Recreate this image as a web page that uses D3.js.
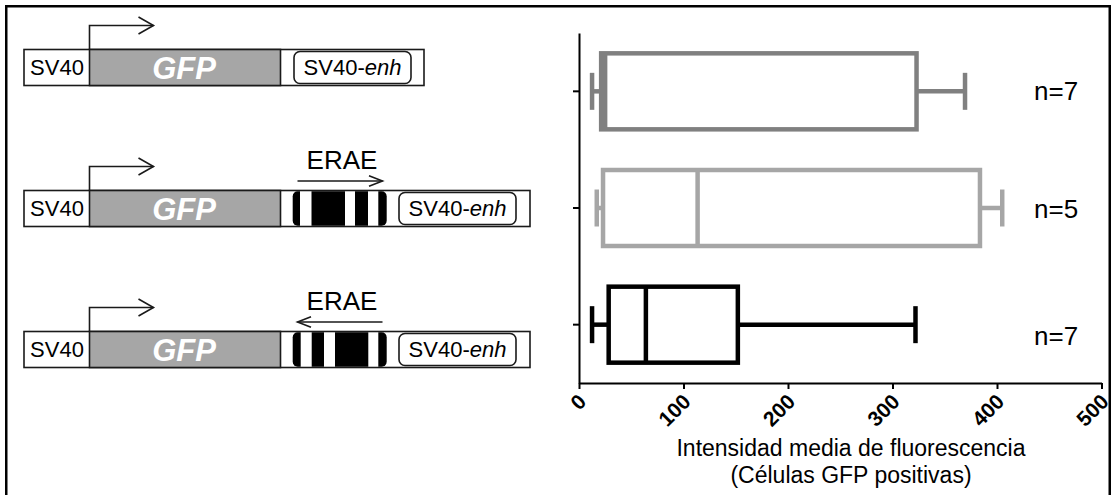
<!DOCTYPE html>
<html>
<head>
<meta charset="utf-8">
<script src="https://cdn.jsdelivr.net/npm/d3@7/dist/d3.min.js"></script>
<style>
  html, body { margin: 0; padding: 0; background: #fff; }
  svg { display: block; }
  text { font-family: Arial, "Liberation Sans", sans-serif; }
</style>
</head>
<body>
<div id="chart"></div>
<script>
// ---------- data ----------
const categories = ["pGFP-SV40enh", "pGFP-ERAE sentido", "pGFP-ERAE antisentido"];
const whiskerMin = [12.5, 17, 12.5];
const q1Values = [21.2, 23, 28.4];
const medianValues = [25, 113.5, 64];
const q3Values = [323, 383.7, 152];
const whiskerMax = [369.4, 405, 322];
const nLabels = ["n=7", "n=5", "n=7"];
const seriesColors = ["#808080", "#a6a6a6", "#000000"];
const xTicks = [0, 100, 200, 300, 400, 500];
const xTitle = ["Intensidad media de fluorescencia", "(Células GFP positivas)"];
const constructs = ["control", "sense", "antisense"];   // ERAE orientation per row
const eraeDirection = [0, 1, -1];

// ---------- svg ----------
const W = 1112, H = 495;
const svg = d3.select("#chart").append("svg").attr("width", W).attr("height", H);

// outer frame
svg.append("rect")
  .attr("x", 6.25).attr("y", 6.25).attr("width", 1103.5).attr("height", 530)
  .attr("fill", "none").attr("stroke", "#000").attr("stroke-width", 2.5);

// ---------- construct diagrams ----------
const rowTop = d3.scalePoint().domain(constructs).range([49.5, 331.5]);
const boxH = 36;
const lineCol = "#1a1a1a";

constructs.forEach((c, i) => {
  const g = svg.append("g");
  const y0 = rowTop(c);
  const dir = eraeDirection[i];
  const hasERAE = dir !== 0;
  const endX = hasERAE ? 530 : 424;
  const enhX = hasERAE ? 399 : 294;
  const enhW = 117;

  // outer box
  g.append("rect").attr("x", 24).attr("y", y0).attr("width", endX - 24).attr("height", boxH)
    .attr("fill", "#fff").attr("stroke", lineCol).attr("stroke-width", 1.6);
  // GFP
  g.append("rect").attr("x", 89.5).attr("y", y0).attr("width", 191).attr("height", boxH)
    .attr("fill", "#a6a6a6").attr("stroke", lineCol).attr("stroke-width", 1.6);
  g.append("text").attr("x", 184).attr("y", y0 + boxH / 2).attr("dy", "0.36em")
    .attr("text-anchor", "middle").attr("fill", "#fff")
    .attr("font-size", 31).attr("font-weight", "bold").attr("font-style", "italic").text("GFP");
  // SV40
  g.append("text").attr("x", 57).attr("y", y0 + boxH / 2).attr("dy", "0.36em")
    .attr("text-anchor", "middle").attr("fill", "#000").attr("font-size", 22).text("SV40");
  // enhancer
  g.append("rect").attr("x", enhX).attr("y", y0 + 2).attr("width", enhW).attr("height", boxH - 4)
    .attr("rx", 6).attr("fill", "#fff").attr("stroke", lineCol).attr("stroke-width", 1.6);
  const t = g.append("text").attr("x", enhX + enhW / 2).attr("y", y0 + boxH / 2).attr("dy", "0.36em")
    .attr("text-anchor", "middle").attr("font-size", 22).attr("fill", "#000");
  t.append("tspan").text("SV40-");
  t.append("tspan").attr("font-style", "italic").text("enh");

  // promoter arrow
  g.append("path")
    .attr("d", `M89.5,${y0} V${y0 - 24} H153.5`)
    .attr("fill", "none").attr("stroke", lineCol).attr("stroke-width", 1.6);
  g.append("path")
    .attr("d", `M138.5,${y0 - 32.5} L153.5,${y0 - 24} L138.5,${y0 - 15.5}`)
    .attr("fill", "none").attr("stroke", lineCol).attr("stroke-width", 1.6);

  if (hasERAE) {
    const ex0 = 292.7, ex1 = 386.7;
    g.append("rect").attr("x", ex0).attr("y", y0 + 0.8).attr("width", ex1 - ex0).attr("height", boxH - 1.6)
      .attr("rx", 5).attr("fill", "#000");
    const stripes = dir > 0 ? [[300, 311.5], [345, 355], [368, 378.3]]
                            : [[300.7, 311.7], [324, 335], [368.3, 378.3]];
    stripes.forEach(s => {
      g.append("rect").attr("x", s[0]).attr("y", y0 + 0.8).attr("width", s[1] - s[0]).attr("height", boxH - 1.6)
        .attr("fill", "#fff");
    });
    // ERAE label + direction arrow
    g.append("text").attr("x", 342).attr("y", y0 - 21.5).attr("text-anchor", "middle")
      .attr("font-size", 26).attr("fill", "#000").text("ERAE");
    const ay = y0 - 9.5;
    g.append("line").attr("x1", 297.5).attr("x2", 382.5).attr("y1", ay).attr("y2", ay)
      .attr("stroke", lineCol).attr("stroke-width", 1.6);
    const tip = dir > 0 ? 382.5 : 297.5;
    const back = dir > 0 ? 369 : 311;
    g.append("path").attr("d", `M${back},${ay - 5.3} L${tip},${ay} L${back},${ay + 5.3}`)
      .attr("fill", "none").attr("stroke", lineCol).attr("stroke-width", 1.6);
  }
});

// ---------- box plot ----------
const x = d3.scaleLinear().domain([0, 500]).range([579, 1101.5]);
const y = d3.scaleBand().domain(categories).range([33, 383]);
const axisY = 383;

const xAxis = svg.append("g").attr("transform", `translate(0,${axisY})`)
  .call(d3.axisBottom(x).tickValues(xTicks).tickSize(6).tickSizeOuter(0).tickFormat(d3.format("d")));
xAxis.select(".domain").attr("stroke", "#000").attr("stroke-width", 2);
xAxis.selectAll(".tick line").attr("stroke", "#000").attr("stroke-width", 2);
xAxis.selectAll(".tick text")
  .attr("y", 0).attr("dy", 0)
  .attr("transform", "translate(8,20) rotate(-45)")
  .attr("text-anchor", "end")
  .attr("font-size", 21).attr("font-weight", "bold").attr("fill", "#000")
  .attr("font-family", "Arial, 'Liberation Sans', sans-serif");

const yAxis = svg.append("g").attr("transform", `translate(${x(0)},0)`)
  .call(d3.axisLeft(y).tickSize(6).tickSizeOuter(0).tickFormat(""));
yAxis.select(".domain").attr("stroke", "#000").attr("stroke-width", 2);
yAxis.selectAll(".tick line").attr("stroke", "#000").attr("stroke-width", 2);

const boxHalf = 38, capHalf = 18.5, sw = 4.5;
const bp = svg.append("g");
categories.forEach((c, i) => {
  const yc = y(c) + y.bandwidth() / 2;
  const col = seriesColors[i];
  const g = bp.append("g").attr("stroke", col).attr("stroke-width", sw).attr("fill", "none");
  g.append("line").attr("x1", x(whiskerMin[i])).attr("x2", x(q1Values[i])).attr("y1", yc).attr("y2", yc);
  g.append("line").attr("x1", x(whiskerMin[i])).attr("x2", x(whiskerMin[i])).attr("y1", yc - capHalf).attr("y2", yc + capHalf);
  g.append("line").attr("x1", x(q3Values[i])).attr("x2", x(whiskerMax[i])).attr("y1", yc).attr("y2", yc);
  g.append("line").attr("x1", x(whiskerMax[i])).attr("x2", x(whiskerMax[i])).attr("y1", yc - capHalf).attr("y2", yc + capHalf);
  g.append("rect").attr("x", x(q1Values[i])).attr("y", yc - boxHalf)
    .attr("width", x(q3Values[i]) - x(q1Values[i])).attr("height", 2 * boxHalf).attr("fill", "#fff");
  g.append("line").attr("x1", x(medianValues[i])).attr("x2", x(medianValues[i])).attr("y1", yc - boxHalf).attr("y2", yc + boxHalf);
});

// n labels
const nOffset = [9, 10, 20];
categories.forEach((c, i) => {
  svg.append("text").attr("x", 1034).attr("y", y(c) + y.bandwidth() / 2 + nOffset[i])
    .attr("font-size", 26).attr("fill", "#000").text(nLabels[i]);
});

// axis title
svg.append("text").attr("x", 851).attr("y", 456).attr("text-anchor", "middle")
  .attr("font-size", 23).attr("fill", "#000").text(xTitle[0]);
svg.append("text").attr("x", 851).attr("y", 483).attr("text-anchor", "middle")
  .attr("font-size", 23).attr("fill", "#000").text(xTitle[1]);
</script>
</body>
</html>
